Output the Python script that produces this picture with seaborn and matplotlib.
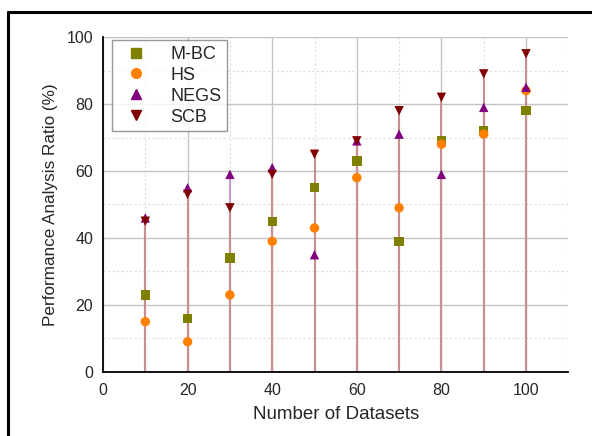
import numpy as np
import pandas as pd
import matplotlib
matplotlib.use("Agg")
import matplotlib.pyplot as plt
from matplotlib.lines import Line2D
from matplotlib.ticker import MultipleLocator
import seaborn as sns

# values
datasets = [10, 20, 30, 40, 50, 60, 70, 80, 90, 100]
mbc = [23, 16, 34, 45, 55, 63, 39, 69, 72, 78]
hs = [15, 9, 23, 39, 43, 58, 49, 68, 71, 84]
negs = [46, 55, 59, 61, 35, 69, 71, 59, 79, 85]
scb = [45, 53, 49, 59, 65, 69, 78, 82, 89, 95]

series = {"M-BC": mbc, "HS": hs, "NEGS": negs, "SCB": scb}
palette = {"M-BC": "#808000", "HS": "#ff8000", "NEGS": "#800080", "SCB": "#800000"}
markers = {"M-BC": "s", "HS": "o", "NEGS": "^", "SCB": "v"}
drop_colors = {"NEGS": "#cc99cc", "SCB": "#c98e8e"}

df = pd.concat(
    [pd.DataFrame({"datasets": datasets, "ratio": vals, "method": name}) for name, vals in series.items()],
    ignore_index=True,
)

sns.set_style("white")
plt.rcParams["font.family"] = ["Liberation Sans", "DejaVu Sans"]

fig = plt.figure(figsize=(5.92, 4.36), dpi=100)
ax = fig.add_axes([0.174, 0.147, 0.786, 0.768])

# grid: solid major, dotted minor
ax.xaxis.set_major_locator(MultipleLocator(20))
ax.xaxis.set_minor_locator(MultipleLocator(10))
ax.yaxis.set_major_locator(MultipleLocator(20))
ax.yaxis.set_minor_locator(MultipleLocator(10))
ax.grid(which="major", color="#c4c4c4", lw=1.0, ls="-", zorder=0)
ax.grid(which="minor", color="#dedede", lw=0.8, ls=(0, (2, 2)), zorder=0)
ax.set_axisbelow(True)

# drop lines to the baseline (NEGS underneath, SCB on top)
for name in ["NEGS", "SCB"]:
    ax.vlines(datasets, 0, series[name], color=drop_colors[name], lw=1.5, zorder=1)

sns.scatterplot(data=df, x="datasets", y="ratio", hue="method", style="method",
                palette=palette, markers=markers, s=46, edgecolor="none",
                legend=False, ax=ax, zorder=3)

ax.set_xlim(0, 110)
ax.set_ylim(0, 100)
ax.set_xlabel("Number of Datasets", fontsize=13.5, labelpad=6)
ax.set_ylabel("Performance Analysis Ratio (%)", fontsize=12.3, labelpad=6)

for side in ["top", "right"]:
    ax.spines[side].set_visible(False)
for side in ["left", "bottom"]:
    ax.spines[side].set_color("black")
    ax.spines[side].set_linewidth(1.3)

ax.tick_params(which="major", direction="inout", length=7, width=1.2, labelsize=11.5, color="black")
ax.tick_params(which="minor", direction="out", length=3.5, width=1.0, color="black")
ax.tick_params(axis="x", which="major", direction="out", length=4.5)

handles = [Line2D([], [], ls="none", marker=markers[n], color=palette[n], markersize=7) for n in series]
leg = ax.legend(handles, list(series), loc="upper left", bbox_to_anchor=(0.02, 0.99),
                fontsize=13, frameon=True, fancybox=False, edgecolor="#7f7f7f",
                handletextpad=0.9, labelspacing=0.22, borderpad=0.3, borderaxespad=0)
leg.get_frame().set_linewidth(1.0)

# page frame visible on the left and top
fig.add_artist(Line2D([8 / 592, 8 / 592], [0, 1 - 12 / 436], transform=fig.transFigure, color="black", lw=2.2))
fig.add_artist(Line2D([8 / 592, 1], [1 - 12 / 436, 1 - 12 / 436], transform=fig.transFigure, color="black", lw=2.2))

fig.savefig("out.png", dpi=100)
